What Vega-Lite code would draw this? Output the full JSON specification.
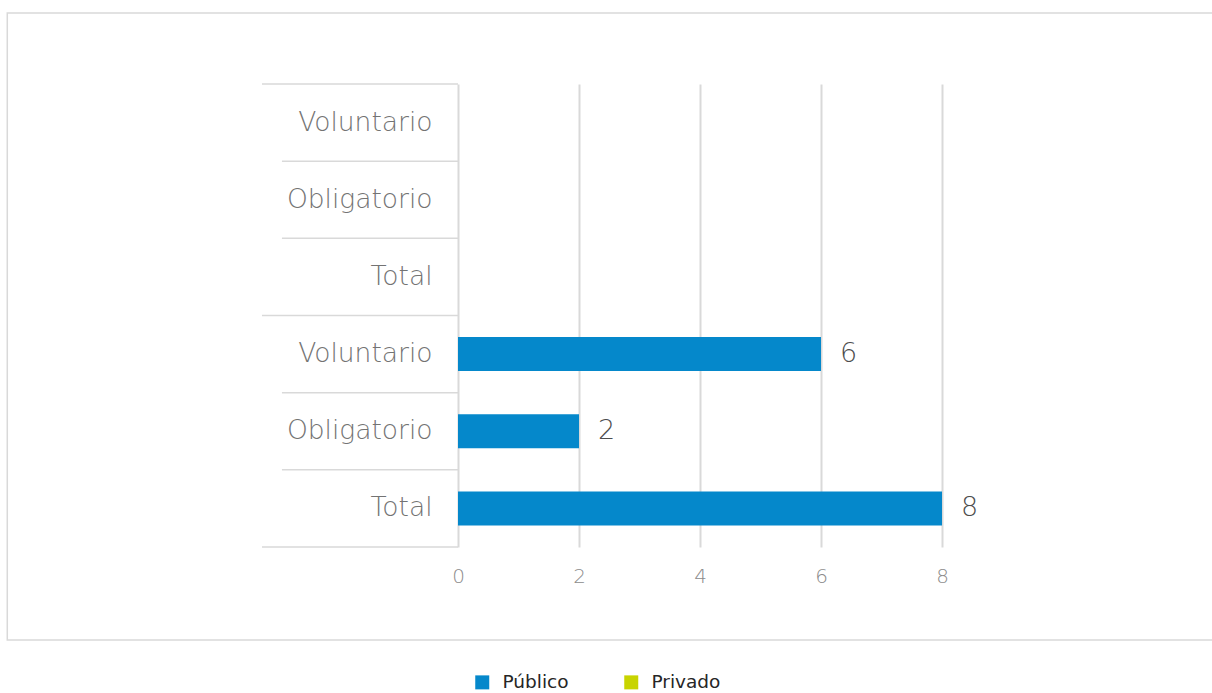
{
  "$schema": "https://vega.github.io/schema/vega-lite/v6.json",
  "autosize": {"type": "none"},
  "padding": {"left": 458, "top": 84, "right": 270, "bottom": 146},
  "width": 484,
  "height": 463,
  "background": "white",
  "config": {
    "view": {"stroke": null},
    "font": "DejaVu Sans"
  },
  "data": {
    "values": [
      {"cat": "Privado|Voluntario", "grupo": "Privado", "sub": "Voluntario", "valor": null},
      {"cat": "Privado|Obligatorio", "grupo": "Privado", "sub": "Obligatorio", "valor": null},
      {"cat": "Privado|Total", "grupo": "Privado", "sub": "Total", "valor": null},
      {"cat": "Público|Voluntario", "grupo": "Público", "sub": "Voluntario", "valor": 6},
      {"cat": "Público|Obligatorio", "grupo": "Público", "sub": "Obligatorio", "valor": 2},
      {"cat": "Público|Total", "grupo": "Público", "sub": "Total", "valor": 8}
    ]
  },
  "resolve": {"scale": {"y": "independent"}},
  "layer": [
    {
      "data": {"values": [{}]},
      "mark": {"type": "rect", "fill": null, "stroke": "#d9d9d9", "strokeWidth": 1.5},
      "encoding": {
        "x": {"datum": -7.45, "type": "quantitative", "scale": {"domain": [0, 8], "nice": false, "zero": false}},
        "x2": {"datum": 12.8},
        "y": {"datum": -93, "type": "quantitative", "scale": {"domain": [0, 463], "nice": false, "zero": false}, "axis": null},
        "y2": {"datum": 534}
      }
    },
    {
      "layer": [
        {
          "mark": {"type": "bar", "height": {"band": 0.44}},
          "encoding": {
            "y": {
              "field": "cat", "type": "nominal",
              "sort": ["Privado|Voluntario", "Privado|Obligatorio", "Privado|Total", "Público|Voluntario", "Público|Obligatorio", "Público|Total"],
              "scale": {"paddingInner": 0, "paddingOuter": 0},
              "axis": {
                "title": null, "domain": false, "ticks": false, "tickSize": 0,
                "labelPadding": 26, "labelFontSize": 26.5, "labelColor": "#737373",
                "labelFont": "DejaVu Sans", "labelFontWeight": 200, "labelLimit": 0,
                "labelExpr": "split(datum.label, '|')[1]"
              }
            },
            "x": {
              "field": "valor", "type": "quantitative",
              "scale": {"domain": [0, 8], "nice": false, "zero": false},
              "axis": {
                "title": null, "values": [0, 2, 4, 6, 8], "format": "d", "grid": true,
                "gridColor": "#d9d9d9", "gridWidth": 2, "domain": false,
                "ticks": false, "tickSize": 0, "labelPadding": 19, "labelFlush": false,
                "labelFontSize": 20, "labelColor": "#8c8c8c", "labelFont": "DejaVu Sans",
                "labelFontWeight": 200
              }
            },
            "color": {
              "field": "grupo", "type": "nominal",
              "scale": {"domain": ["Público", "Privado"], "range": ["#0588cb", "#c8d400"]},
              "legend": {
                "title": null, "orient": "none", "direction": "horizontal",
                "legendX": 15, "legendY": 589, "padding": 0,
                "symbolType": "square", "symbolSize": 196, "symbolStrokeWidth": 0,
                "symbolOpacity": 1,
                "labelFontSize": 18.5, "labelColor": "#262626", "labelFont": "DejaVu Sans",
                "labelOffset": 11, "columnPadding": 53
              }
            }
          }
        },
        {
          "mark": {"type": "text", "align": "left", "baseline": "middle", "dx": 19, "fontSize": 27, "fontWeight": 200, "color": "#4d4d4d", "font": "DejaVu Sans"},
          "encoding": {
            "y": {"field": "cat", "type": "nominal", "sort": ["Privado|Voluntario", "Privado|Obligatorio", "Privado|Total", "Público|Voluntario", "Público|Obligatorio", "Público|Total"]},
            "x": {"field": "valor", "type": "quantitative", "scale": {"domain": [0, 8], "nice": false, "zero": false}},
            "text": {"field": "valor", "type": "quantitative"}
          }
        },
        {
          "transform": [{"filter": "datum.sub != 'Voluntario'"}],
          "mark": {"type": "rule", "color": "#d9d9d9", "strokeWidth": 1.5},
          "encoding": {
            "y": {"field": "cat", "type": "nominal", "bandPosition": 0, "sort": ["Privado|Voluntario", "Privado|Obligatorio", "Privado|Total", "Público|Voluntario", "Público|Obligatorio", "Público|Total"]},
            "x": {"datum": -2.91, "type": "quantitative", "scale": {"domain": [0, 8], "nice": false, "zero": false}},
            "x2": {"datum": 0}
          }
        },
        {
          "transform": [{"filter": "datum.sub == 'Voluntario'"}],
          "mark": {"type": "rule", "color": "#d9d9d9", "strokeWidth": 1.5},
          "encoding": {
            "y": {"field": "cat", "type": "nominal", "bandPosition": 0, "sort": ["Privado|Voluntario", "Privado|Obligatorio", "Privado|Total", "Público|Voluntario", "Público|Obligatorio", "Público|Total"]},
            "x": {"datum": -3.24, "type": "quantitative", "scale": {"domain": [0, 8], "nice": false, "zero": false}},
            "x2": {"datum": 0}
          }
        },
        {
          "transform": [{"filter": "datum.cat == 'Público|Total'"}],
          "mark": {"type": "rule", "color": "#d9d9d9", "strokeWidth": 1.5},
          "encoding": {
            "y": {"field": "cat", "type": "nominal", "bandPosition": 1, "sort": ["Privado|Voluntario", "Privado|Obligatorio", "Privado|Total", "Público|Voluntario", "Público|Obligatorio", "Público|Total"]},
            "x": {"datum": -3.24, "type": "quantitative", "scale": {"domain": [0, 8], "nice": false, "zero": false}},
            "x2": {"datum": 0}
          }
        }
      ]
    }
  ]
}
